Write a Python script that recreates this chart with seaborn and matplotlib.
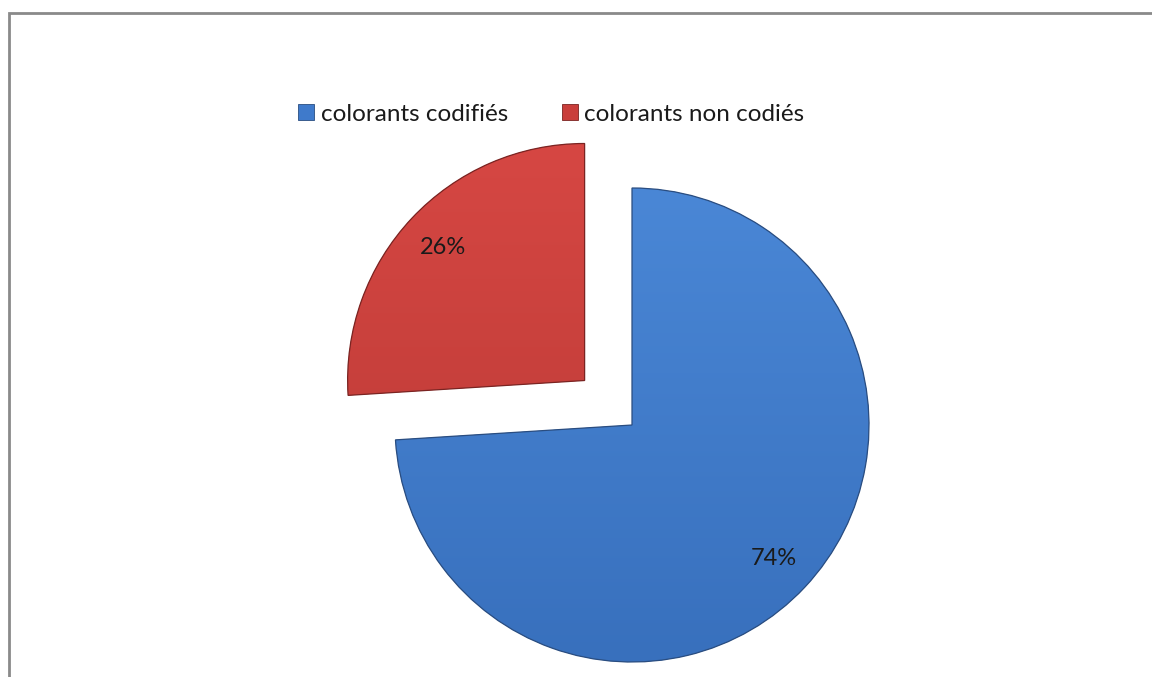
import numpy as np
import matplotlib
matplotlib.use("Agg")
import matplotlib.pyplot as plt
import seaborn as sns
from matplotlib.colors import LinearSegmentedColormap
from matplotlib.patches import Rectangle, PathPatch
from matplotlib.lines import Line2D

# Data
categories = ["colorants codifiés", "colorants non codiés"]
shares = [74, 26]

sns.set_theme(style="white")
plt.rcParams["font.family"] = ["Lato", "DejaVu Sans"]

W, H = 1152, 677
fig = plt.figure(figsize=(W / 100, H / 100), dpi=100)
ax = fig.add_axes([0, 0, 1, 1])

fill_colors = ["#3f7acb", "#c93e3b"]
edge_colors = ["#2a4d80", "#7a2422"]
grad_colors = [("#4a87d6", "#3870bd"), ("#d64743", "#b93935")]
radius = 237
center = (632, H - 425)

wedges, texts, autotexts = ax.pie(
    shares,
    colors=fill_colors,
    startangle=90,
    counterclock=False,
    explode=[0, 65],
    radius=radius,
    center=center,
    autopct="%d%%",
    pctdistance=0.82,
    frame=True,
    wedgeprops=dict(linewidth=0),
    textprops=dict(fontsize=17, color="#1a1a1a"),
)
ax.set_xlim(0, W)
ax.set_ylim(0, H)
ax.set_aspect("equal")
ax.axis("off")

# Vertical gradient shading inside each slice, with a thin outline
for w, (c_top, c_bot), ec in zip(wedges, grad_colors, edge_colors):
    cmap = LinearSegmentedColormap.from_list("g", [c_top, c_bot])
    cx, cy = w.center
    r = w.r
    grad = np.linspace(0, 1, 256).reshape(-1, 1)
    im = ax.imshow(grad, cmap=cmap, aspect="auto",
                   extent=(cx - r, cx + r, cy - r, cy + r),
                   origin="upper", zorder=w.get_zorder() + 0.1)
    im.set_clip_path(w)
    outline = PathPatch(w.get_path(), transform=w.get_transform(),
                        fill=False, edgecolor=ec, linewidth=0.9,
                        zorder=w.get_zorder() + 0.2)
    ax.add_patch(outline)

for t in autotexts:
    t.set_zorder(10)

# Legend across the top
handles = [Line2D([0], [0], marker="s", linestyle="none", markersize=11,
                  markerfacecolor=c, markeredgecolor=e, markeredgewidth=0.6)
           for c, e in zip(fill_colors, edge_colors)]
fig.legend(handles, categories, loc="center", ncol=2,
           bbox_to_anchor=(551 / W, 1 - 114 / H), frameon=False,
           fontsize=17.5, handlelength=0.7, handletextpad=0.25,
           columnspacing=2.2, labelcolor="#1a1a1a")

# Chart-area frame (top and left edges visible)
fig.patches.append(Rectangle((9 / W, -0.05), 1.2, (1 - 13 / H) + 0.05,
                             transform=fig.transFigure, fill=False,
                             edgecolor="#8a8a8a", linewidth=2.0))

fig.savefig("out.png", dpi=100, facecolor="white")
